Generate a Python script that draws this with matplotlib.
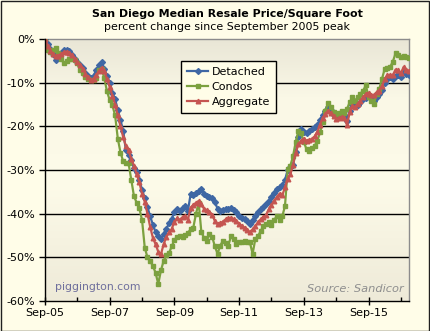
import numpy as np
import matplotlib
matplotlib.use("Agg")
import matplotlib.pyplot as plt
from matplotlib.colors import LinearSegmentedColormap
from matplotlib.patches import Rectangle
from matplotlib.ticker import FixedLocator, FixedFormatter

# ---- data (percent change since Sep-2005 peak, monthly from Sep-05) ----
detached = [0, -1.2, -2.2, -3.5, -4.8, -4.0, -3.3, -2.6, -2.5, -2.8,
            -3.7, -4.6, -5.3, -6.0, -6.6, -7.8, -8.5, -8.9, -8.4, -7.2,
            -6.0, -5.2, -6.8, -8.5, -10.0, -12.3, -13.8, -16.2, -18.5, -21.0,
            -25.5, -26.5, -27.8, -29.5, -30.5, -32.3, -34.5, -36.5, -38.5, -40.6,
            -42.5, -44.2, -45.2, -45.9, -44.6, -43.5, -42.2, -41.2, -39.6, -38.9,
            -39.3, -38.6, -38.3, -39.3, -35.6, -35.8, -35.2, -34.8, -34.4, -35.4,
            -35.9, -36.2, -36.5, -37.3, -38.9, -39.4, -39.2, -38.9, -39.0, -38.8,
            -39.2, -39.6, -40.5, -40.9, -41.3, -41.7, -42.4, -41.5, -40.5, -39.6,
            -38.9, -38.4, -37.8, -37.0, -36.2, -35.2, -34.4, -34.0, -33.4, -32.3,
            -30.0, -29.2, -28.8, -25.8, -22.5, -20.6, -21.2, -21.5, -21.0, -20.6,
            -20.2, -19.6, -18.6, -17.3, -16.4, -15.6, -16.2, -17.3, -17.6, -17.5,
            -17.4, -17.3, -18.7, -16.4, -15.0, -15.2, -15.0, -14.5, -13.7, -13.4,
            -12.9, -13.5, -14.1, -13.3, -12.5, -11.6, -10.0, -9.1, -8.7, -9.1,
            -8.4, -8.3, -8.7, -7.5, -8.0, -8.3]

condos = [0, -2.5, -3.0, -2.6, -2.1, -3.3, -4.5, -5.6, -5.0, -4.5,
          -4.6, -4.9, -5.6, -7.2, -7.8, -8.7, -9.1, -9.4, -9.5, -8.9,
          -7.2, -6.8, -9.0, -12.0, -14.0, -15.2, -17.5, -22.8, -26.0, -28.0,
          -28.3, -28.5, -32.3, -36.0, -37.5, -38.8, -41.5, -47.8, -50.0, -50.8,
          -52.0, -53.5, -56.1, -53.0, -50.8, -49.5, -49.0, -47.5, -46.0, -45.3,
          -45.2, -45.4, -45.0, -44.4, -43.6, -43.2, -40.0, -37.5, -44.3, -45.5,
          -46.2, -44.7, -45.3, -47.5, -49.2, -47.3, -46.2, -46.8, -47.3, -45.1,
          -45.8, -47.0, -46.6, -46.4, -46.2, -46.4, -46.6, -49.2, -45.8, -45.1,
          -44.0, -42.8, -42.3, -42.0, -42.5, -41.4, -40.6, -41.4, -40.6, -38.3,
          -29.8, -29.0, -26.8, -23.5, -21.0, -21.5, -23.7, -25.2, -25.6, -25.0,
          -24.5, -23.3, -21.4, -19.0, -16.4, -14.6, -15.6, -16.8, -17.2, -17.0,
          -16.4, -17.0, -16.0, -14.5, -13.3, -14.1, -13.3, -12.5, -11.8, -10.6,
          -13.3, -14.3, -14.8, -12.5, -11.4, -9.1, -6.8, -6.6, -6.4, -5.2,
          -3.3, -3.7, -4.1, -4.0, -4.1, -4.3]

aggregate = [0, -1.5, -2.7, -3.5, -4.0, -3.8, -3.4, -3.0, -2.9, -3.2,
             -3.7, -4.5, -5.2, -5.9, -6.8, -8.0, -8.8, -9.3, -9.1, -8.2,
             -7.4, -6.6, -7.4, -9.2, -11.0, -13.0, -15.0, -17.5, -20.0, -22.5,
             -24.5, -25.5, -27.5, -29.0, -31.0, -32.8, -35.5, -37.3, -40.0, -43.0,
             -45.5, -47.0, -48.7, -49.3, -47.0, -45.3, -44.3, -43.5, -41.8, -41.1,
             -41.4, -40.8, -40.5, -41.4, -38.6, -38.0, -37.5, -37.1, -37.9, -38.9,
             -39.2, -39.6, -40.2, -41.7, -42.4, -42.2, -41.8, -41.3, -41.1, -40.9,
             -41.3, -41.7, -42.3, -42.8, -43.2, -43.7, -44.3, -43.6, -42.9, -42.0,
             -41.3, -40.8, -40.3, -39.0, -38.0, -37.0, -36.2, -35.4, -35.8, -34.0,
             -32.0, -31.0, -28.8, -26.0, -24.1, -23.3, -22.8, -23.3, -23.1, -22.9,
             -22.3, -21.3, -19.6, -18.0, -17.2, -16.4, -17.0, -17.7, -18.3, -18.1,
             -17.9, -18.1, -19.7, -16.8, -15.3, -15.6, -14.8, -14.1, -13.3, -12.6,
             -12.3, -12.8, -12.9, -12.2, -11.8, -10.8, -9.2, -8.3, -8.2, -8.3,
             -7.0, -7.2, -7.9, -6.4, -7.0, -7.3]

x_tick_labels = ["Sep-05", "Sep-07", "Sep-09", "Sep-11", "Sep-13", "Sep-15"]
y_tick_values = [0, -10, -20, -30, -40, -50, -60]
y_tick_labels = ["0%", "-10%", "-20%", "-30%", "-40%", "-50%", "-60%"]

# ---- figure ----
W, H = 430, 331
fig = plt.figure(figsize=(W / 100, H / 100), dpi=100)
fig.patch.set_facecolor("#FFFDE8")
fig.patches.append(Rectangle((0.5 / W, 0.5 / H), 1 - 1.5 / W, 1 - 1.5 / H,
                             transform=fig.transFigure, fill=False,
                             edgecolor="#202020", linewidth=1.0))

ax = fig.add_axes([45 / W, 1 - 301 / H, 364 / W, 262 / H])
n = len(detached)
months = np.arange(n)

# gradient background of plot area
cmap = LinearSegmentedColormap.from_list(
    "bg", [(0.0, "#E9E6D6"), (0.22, "#FAF8E6"), (0.55, "#FDFBE9"),
           (1.0, "#EEEAD8")])
grad = np.linspace(1, 0, 256).reshape(-1, 1)
ax.imshow(grad, cmap=cmap, aspect="auto", extent=(0, n - 1, -60, 0),
          zorder=0, interpolation="bicubic", origin="lower")
ax.set_facecolor("#FDFBE9")

for v in y_tick_values[1:-1]:
    ax.axhline(v, color="black", linewidth=1.0, zorder=1)

blue = "#3F67A4"
green = "#7CA13F"
red = "#C55551"
ax.plot(months, detached, color=blue, lw=1.6, marker="D", ms=3.0,
        mec=blue, mfc=blue, label="Detached", zorder=3)
ax.plot(months, condos, color=green, lw=1.6, marker="s", ms=3.3,
        mec=green, mfc=green, label="Condos", zorder=4)
ax.plot(months, aggregate, color=red, lw=1.6, marker="^", ms=3.3,
        mec=red, mfc=red, label="Aggregate", zorder=5)

ax.set_xlim(0, n - 1)
ax.set_ylim(-60, 0)

ax.xaxis.set_major_locator(FixedLocator([24 * i for i in range(len(x_tick_labels))]))
ax.xaxis.set_major_formatter(FixedFormatter(x_tick_labels))
ax.xaxis.set_minor_locator(FixedLocator([12 + 24 * i for i in range(6)]))
ax.yaxis.set_major_locator(FixedLocator(y_tick_values))
ax.yaxis.set_major_formatter(FixedFormatter(y_tick_labels))

ax.tick_params(axis="x", which="major", direction="inout", length=6,
               width=1, labelsize=8, pad=2, colors="black")
ax.tick_params(axis="x", which="minor", direction="in", length=3, width=1)
ax.tick_params(axis="y", which="major", direction="out", length=4,
               width=1, labelsize=8, pad=3)

for s in ("left", "bottom"):
    ax.spines[s].set_color("black")
    ax.spines[s].set_linewidth(1.0)
for s in ("top", "right"):
    ax.spines[s].set_color("#8C8C8C")
    ax.spines[s].set_linewidth(1.0)
ax.spines["left"].set_zorder(6)
ax.spines["bottom"].set_zorder(6)

leg = ax.legend(loc="upper left", bbox_to_anchor=((181 - 45) / 364, (301 - 61) / 262),
                borderaxespad=0, frameon=True, fancybox=False, fontsize=8,
                handlelength=1.9, handletextpad=0.3, labelspacing=0.45,
                borderpad=0.55, markerscale=1.0)
leg.get_frame().set_edgecolor("black")
leg.get_frame().set_linewidth(1.0)
leg.get_frame().set_facecolor("#FFFDE8")
leg.get_frame().set_alpha(1)
leg.set_zorder(10)

fig.text(227 / W, 1 - 14 / H, "San Diego Median Resale Price/Square Foot",
         ha="center", va="center", fontsize=7.9, fontweight="bold", color="black")
fig.text(227 / W, 1 - 27 / H, "percent change since September 2005 peak",
         ha="center", va="center", fontsize=7.9, color="black")

ax.text((55 - 45) / 364, (301 - 287) / 262, "piggington.com", transform=ax.transAxes,
        fontsize=7.8, color="#6E6E9C", ha="left", va="center", zorder=7)
ax.text((404 - 45) / 364, (301 - 289) / 262, "Source: Sandicor", transform=ax.transAxes,
        fontsize=8.2, color="#8E8E8E", style="italic", ha="right", va="center", zorder=7)

fig.savefig("out.png", dpi=100, facecolor=fig.get_facecolor())
